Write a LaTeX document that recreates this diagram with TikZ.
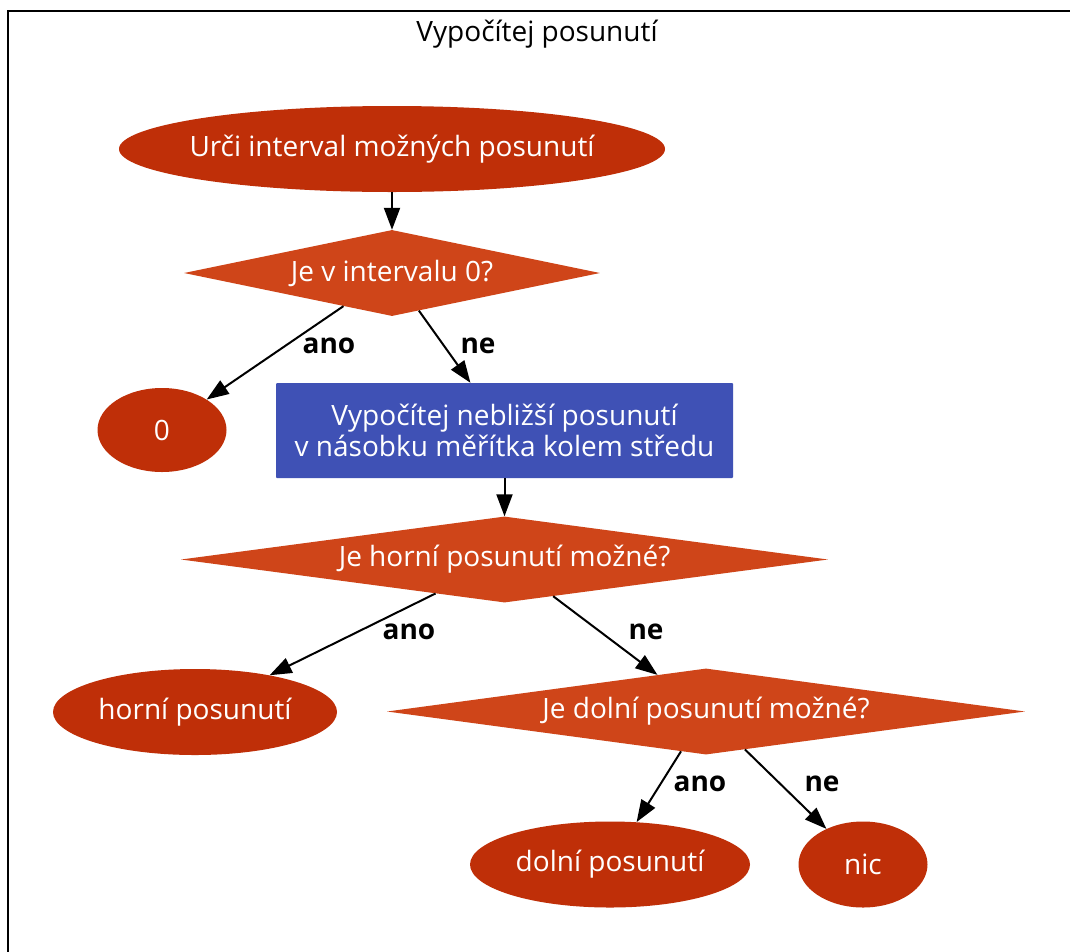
\documentclass[tikz,border=0pt]{standalone}
\usepackage{fontspec}
\setmainfont{Open Sans}
\usetikzlibrary{shapes.geometric,arrows.meta}
\definecolor{ovalc}{HTML}{BF2F08}
\definecolor{diac}{HTML}{CF4519}
\definecolor{boxc}{HTML}{3F51B5}
\tikzset{
  every node/.style={font=\fontsize{28}{31}\selectfont},
  oval/.style={ellipse, fill=ovalc, draw=none, inner sep=0pt},
  dia/.style={diamond, fill=diac, draw=none, inner sep=0pt},
  procbox/.style={rectangle, fill=boxc, draw=none, inner sep=0pt, rounded corners=1pt},
  txt/.style={text=white, align=center, inner sep=0pt},
  edge/.style={draw=black, line width=2pt, -{Triangle[length=22pt,width=16pt]}},
  lab/.style={font=\fontsize{28}{31}\selectfont\bfseries, text=black, inner sep=0pt}
}
\begin{document}
\begin{tikzpicture}[x=1pt,y=-1pt]
\useasboundingbox (0,0) rectangle (1070,951);
\clip (0,0) rectangle (1070,951);
\fill[white] (0,0) rectangle (1070,951);
\draw[line width=2pt] (8,11) rectangle (1090,980);
\node[inner sep=0pt] (title) at (537,34) {Vypočítej posunutí};

\node[oval, minimum width=546pt, minimum height=86pt, label={[txt]center:Urči interval možných posunutí}] (e1) at (392,149) {};
\node[dia, minimum width=416pt, minimum height=86pt, label={[txt]center:Je v intervalu 0?}] (d1) at (392,273) {};
\node[oval, minimum width=129pt, minimum height=84pt, label={[txt]center:0}] (zero) at (162,430) {};
\node[procbox, minimum width=457pt, minimum height=95pt, label={[txt]center:Vypočítej nebližší posunutí\\v násobku měřítka kolem středu}] (calc) at (504.5,430.5) {};
\node[dia, minimum width=647pt, minimum height=86pt, label={[txt]center:Je horní posunutí možné?}] (d2) at (504.5,559.5) {};
\node[oval, minimum width=284pt, minimum height=86pt, label={[txt]center:horní posunutí}] (horni) at (195,712) {};
\node[dia, minimum width=638pt, minimum height=86pt, label={[txt]center:Je dolní posunutí možné?}] (d3) at (706,711.5) {};
\node[oval, minimum width=280pt, minimum height=86pt, label={[txt]center:dolní posunutí}] (dolni) at (610,864.5) {};
\node[oval, minimum width=129pt, minimum height=86pt, label={[txt]center:nic}] (nic) at (863,864.5) {};

\draw[edge] (e1) -- (d1);
\draw[edge] (d1) -- (zero);
\draw[edge] (d1) -- (calc);
\draw[edge] (calc) -- (d2);
\draw[edge] (d2) -- (horni);
\draw[edge] (d2) -- (d3);
\draw[edge] (d3) -- (dolni);
\draw[edge] (d3) -- (nic);

\node[lab] (l1) at (329,346) {ano};
\node[lab] (l2) at (478,346) {ne};
\node[lab] (l3) at (409,632) {ano};
\node[lab] (l4) at (646,632) {ne};
\node[lab] (l5) at (700,784) {ano};
\node[lab] (l6) at (822,784) {ne};
\end{tikzpicture}
\end{document}
